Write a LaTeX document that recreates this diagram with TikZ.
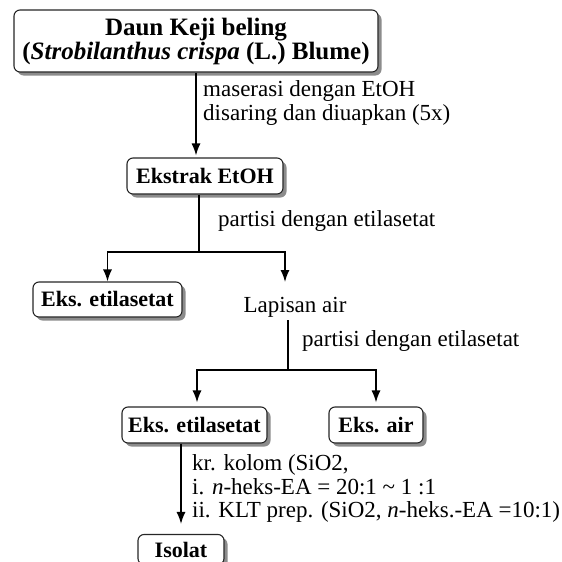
\documentclass[tikz,border=0pt]{standalone}
\usepackage{fontspec}
\setmainfont{Liberation Serif}
\usetikzlibrary{arrows.meta,shadows}
\begin{document}
\begin{tikzpicture}[x=1pt,y=-1pt,
  box/.style={draw=black!85, line width=1.1pt, rounded corners=6pt, fill=white,
    drop shadow={shadow xshift=3.5pt, shadow yshift=-3.5pt, opacity=0.45, fill=black},
    font=\fontsize{22}{24}\selectfont\bfseries, inner sep=0pt, align=center},
  lbl/.style={font=\fontsize{23}{24}\selectfont, inner sep=0pt, anchor=base west},
  conn/.style={line width=1.4pt, draw=black},
  arr/.style={conn, -{Latex[length=12pt,width=9pt]}}
]
\useasboundingbox (0,0) rectangle (562,562);

% boxes
\node[box, minimum width=364pt, minimum height=62pt,
      font=\fontsize{25}{24}\selectfont\bfseries] (daun) at (196,41)
  {Daun Keji beling\\(\textit{Strobilanthus crispa} (L.) Blume)};
\node[box, minimum width=156pt, minimum height=36pt] (ekstrak) at (205,176) {Ekstrak EtOH};
\node[box, minimum width=149pt, minimum height=35pt] (eks1) at (107.5,299.5) {Eks. etilasetat};
\node[font=\fontsize{23}{24}\selectfont, inner sep=0pt, anchor=base] (lapisan) at (295,312) {Lapisan air};
\node[box, minimum width=145pt, minimum height=36pt] (eks2) at (194.5,425) {Eks. etilasetat};
\node[box, minimum width=94pt, minimum height=36pt] (air) at (376,425) {Eks. air};
\node[box, minimum width=86pt, minimum height=30pt] (isolat) at (181,549.5) {Isolat};

% labels
\node[lbl] (m1) at (203,96) {maserasi dengan EtOH};
\node[lbl] (m2) at (203,120) {disaring dan diuapkan (5x)};
\node[lbl] (p1) at (218,226) {partisi dengan etilasetat};
\node[lbl] (p2) at (302,346) {partisi dengan etilasetat};
\node[lbl] (k1) at (192,470) {kr. kolom (SiO2,};
\node[lbl] (k2) at (192,494) {i. \textit{n}-heks-EA = 20:1 \textasciitilde{} 1 :1};
\node[lbl] (k3) at (192,517) {ii. KLT prep. (SiO2, \textit{n}-heks.-EA =10:1)};

% connectors
\draw[arr, shorten >=2pt] (daun.south) -- (daun.south |- ekstrak.north);

\coordinate (j1) at (199,252);
\coordinate (t1) at (285,282);
\draw[conn] (ekstrak.south -| j1) -- (j1);
\draw[arr] (j1) -| (eks1.north);
\draw[arr] (j1) -| (t1);

\coordinate (j2) at (288,370);
\draw[conn, shorten <=3pt] (lapisan.south -| j2) -- (j2);
\draw[arr, shorten >=4pt] (j2) -| ([xshift=2.5pt]eks2.north);
\draw[arr, shorten >=4pt] (j2) -| (air.north);

\draw[arr, shorten >=10pt] (eks2.south -| isolat.north) -- (isolat.north);
\end{tikzpicture}
\end{document}
